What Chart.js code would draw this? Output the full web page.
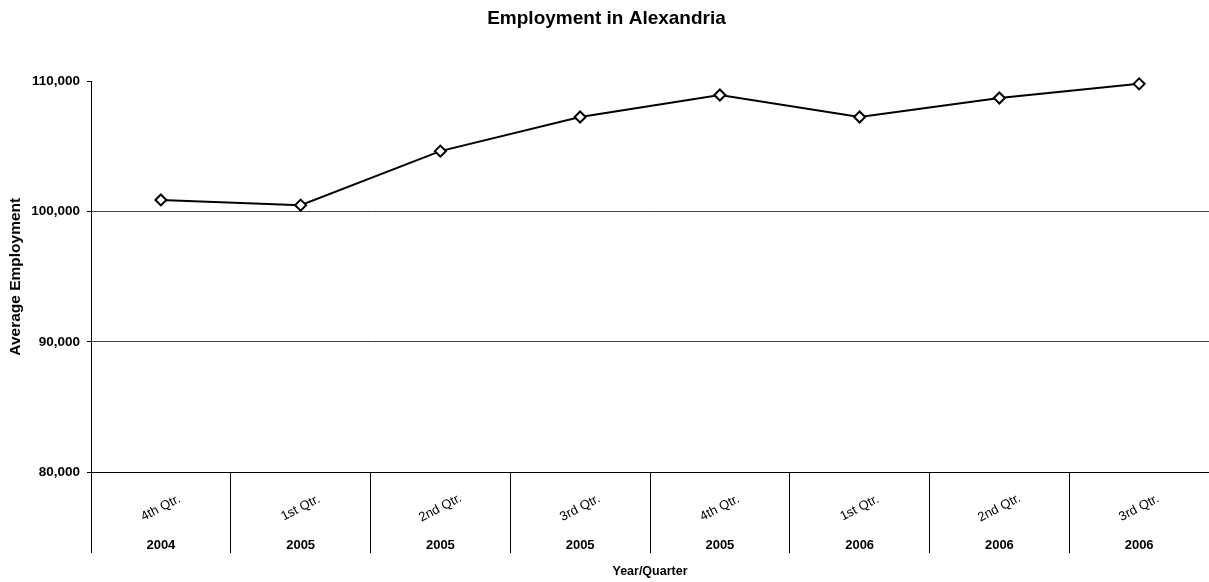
<!doctype html>
<html>
  <head>
    <meta charset="UTF-8">
    <title>Employment in Alexandria</title>
    <script src="https://cdn.jsdelivr.net/npm/chart.js@4/dist/chart.umd.min.js"></script>
    <style>
      body {
        margin: 0;
        background: #fff;
      }
      #chart-container {
        width: 1209px;
        height: 582px;
      }
    </style>
  </head>
  <body>
    <div id="chart-container">
      <canvas id="lineChart"></canvas>
    </div>
    <script>
      var quarters = ['4th Qtr.', '1st Qtr.', '2nd Qtr.', '3rd Qtr.', '4th Qtr.', '1st Qtr.', '2nd Qtr.', '3rd Qtr.']
      var years = ['2004', '2005', '2005', '2005', '2005', '2006', '2006', '2006']
      var employment = [100900, 100500, 104650, 107270, 108960, 107270, 108730, 109820]
      var yTicks = [80000, 90000, 100000, 110000]

      var fontFamily = "'Liberation Sans', Arial, sans-serif"

      // two-row category labels: rotated quarter over a flat year
      var quarterLabels = {
        id: 'quarterLabels',
        afterDraw: function(chart) {
          var ctx = chart.ctx
          var xScale = chart.scales.x
          ctx.save()
          ctx.fillStyle = '#000'
          ctx.textAlign = 'center'
          ctx.textBaseline = 'middle'
          for (var i = 0; i < quarters.length; i++) {
            var x = xScale.getPixelForValue(i)
            ctx.save()
            ctx.translate(x, xScale.top + 36)
            ctx.rotate(-27.5 * Math.PI / 180)
            ctx.font = '13px ' + fontFamily
            ctx.fillText(quarters[i], 0, 0)
            ctx.restore()
            ctx.font = 'bold 13px ' + fontFamily
            ctx.fillText(years[i], x, xScale.top + 73)
          }
          ctx.restore()
        }
      }

      var lineCtx = document.getElementById('lineChart').getContext('2d')
      var myLineChart = new Chart(lineCtx, {
        type: 'line',
        data: {
          labels: quarters.map(function(q, i) { return q + ' ' + years[i] }),
          datasets: [
            {
              label: 'Average Employment',
              data: employment,
              borderColor: '#000',
              borderWidth: 2,
              tension: 0,
              fill: false,
              clip: false,
              pointStyle: 'rectRot',
              pointRadius: 5.5,
              pointBorderWidth: 2,
              pointBorderColor: '#000',
              pointBackgroundColor: '#fff'
            }
          ]
        },
        options: {
          responsive: true,
          maintainAspectRatio: false,
          animation: false,
          layout: {
            autoPadding: false,
            padding: { left: 0, right: -4, top: 0, bottom: 0 }
          },
          plugins: {
            legend: { display: false },
            tooltip: { enabled: false },
            title: {
              display: true,
              text: 'Employment in Alexandria',
              color: '#000',
              font: { family: fontFamily, size: 19, weight: 'bold' },
              padding: { top: 7, bottom: 51.7 }
            }
          },
          scales: {
            x: {
              type: 'category',
              offset: true,
              grid: {
                offset: true,
                drawOnChartArea: false,
                tickLength: 81,
                tickColor: '#000'
              },
              border: { color: '#000', width: 1 },
              ticks: { display: false },
              title: {
                display: true,
                text: 'Year/Quarter',
                color: '#000',
                font: { family: fontFamily, size: 12.5, weight: 'bold' },
                padding: { top: 0, bottom: 3 }
              },
              afterFit: function(scale) {
                scale.height = 110
              }
            },
            y: {
              min: 80000,
              max: 110000,
              afterBuildTicks: function(scale) {
                scale.ticks = yTicks.map(function(v) { return { value: v } })
              },
              grid: {
                color: function(c) {
                  if (c.tick && c.tick.value === 110000) return 'rgba(0,0,0,0)'
                  if (c.tick && c.tick.value === 80000) return '#000'
                  return '#444'
                },
                tickColor: '#000',
                tickLength: 4
              },
              border: { color: '#000', width: 1 },
              ticks: {
                color: '#000',
                padding: 7,
                font: { family: fontFamily, size: 13.5, weight: 'bold' },
                callback: function(v) { return v.toLocaleString('en-US') }
              },
              title: {
                display: true,
                text: 'Average Employment',
                color: '#000',
                font: { family: fontFamily, size: 15.5, weight: 'bold' },
                padding: { top: 6, bottom: 0 }
              },
              afterFit: function(scale) {
                scale.width = 91
              }
            }
          }
        },
        plugins: [quarterLabels]
      })
    </script>
  </body>
</html>
